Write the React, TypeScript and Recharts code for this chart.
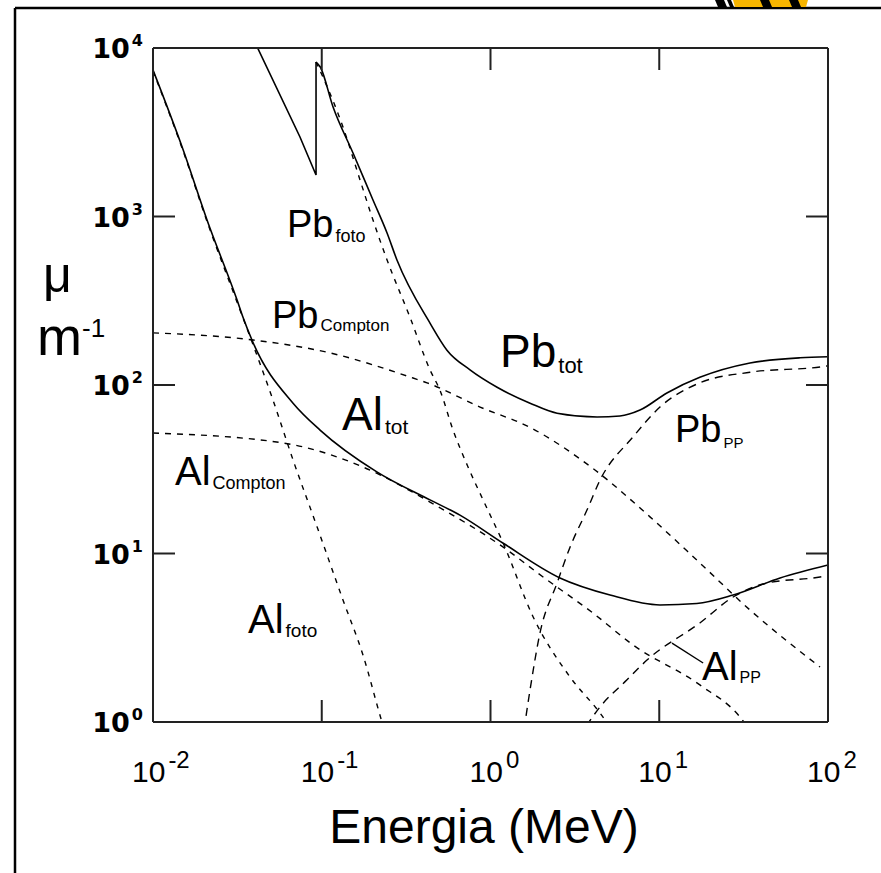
import React from 'react';
import { LineChart, Line, XAxis, YAxis, ReferenceLine } from 'recharts';

// energies in MeV, attenuation coefficients in m^-1
const alTotE = [0.01, 0.0151, 0.0209, 0.0315, 0.0341, 0.0392, 0.0676, 0.0977, 0.212, 0.438, 0.659, 1.19, 2.58, 5.11, 10.1, 16.7, 27.4, 52, 100];
const alTotMu = [7400, 2480, 953, 319, 253, 178, 78, 54, 30.5, 20.8, 16.9, 11.5, 7.16, 5.67, 4.95, 5.05, 5.67, 7.16, 8.55];

const alFotoE = [0.01, 0.0151, 0.0209, 0.0315, 0.0392, 0.0514, 0.0676, 0.0938, 0.1336, 0.1755, 0.2275, 0.235];
const alFotoMu = [7300, 2440, 935, 310, 173, 81.5, 35.9, 14.4, 5.3, 2.5, 1.0, 0.9];

const alComptonE = [0.01, 0.0589, 0.1755, 0.438, 1.19, 2.05, 4.05, 6.98, 17.4, 30.1, 33];
const alComptonMu = [51.9, 45.3, 32.6, 20.2, 10.9, 7.25, 4.43, 2.87, 1.66, 1.07, 0.95];

const alPpE = [3.7, 4.46, 6.44, 8.46, 17.4, 27.4, 43.5, 89.7, 100];
const alPpMu = [0.95, 1.23, 1.78, 2.33, 3.87, 5.52, 6.68, 7.25, 7.4];

// Pb total, below the K edge (ending with the jump at the edge)
const pbTotLowE = [0.03, 0.0743, 0.0925, 0.0925];
const pbTotLowMu = [20000, 2965, 1763, 8260];
// Pb total, above the K edge
const pbTotHighE = [0.0925, 0.098, 0.1167, 0.1532, 0.2012, 0.2438, 0.279, 0.438, 0.552, 0.756, 1.094, 1.715, 2.48, 4.28, 5.85, 7.69, 11.1, 17.4, 34.5, 68.3, 100];
const pbTotHighMu = [8260, 7710, 4465, 2381, 1253, 798, 552, 233, 161, 123, 97, 78, 68, 64.6, 65.5, 71, 89.7, 111, 135, 145, 147];

const pbFotoE = [0.0925, 0.1016, 0.1336, 0.1686, 0.2012, 0.2438, 0.333, 0.438, 0.502, 0.6, 0.736, 0.904, 1.19, 1.79, 2.96, 4.46, 5.25];
const pbFotoMu = [8260, 6730, 3397, 1648, 953, 552, 253, 123, 93, 54, 32.6, 20.8, 11.5, 4.2, 1.85, 1.13, 0.9];

const pbComptonE = [0.01, 0.0392, 0.112, 0.3475, 0.421, 0.867, 1.715, 4.16, 8.81, 17.4, 34.5, 89.7];
const pbComptonMu = [204, 185, 155, 110, 103, 74, 56, 31.3, 16.5, 8.79, 4.62, 2.12];

const pbPpE = [1.58, 1.715, 1.965, 2.48, 2.96, 3.73, 4.46, 6.98, 10.1, 17.4, 34.5, 89.7, 100];
const pbPpMu = [0.9, 1.55, 3.38, 6.68, 10.9, 18.1, 27.3, 49.1, 74, 103, 119, 128, 130];

const xTicks = [0.01, 0.1, 1, 10, 100];
const yTicks = [1, 10, 100, 1000, 10000];

const toPoints = (e: number[], mu: number[]) => e.map((v, i) => ({ e: v, mu: mu[i] }));

const SANS = '"Liberation Sans", Arial, sans-serif';
const FRAME = '#222';

const LeftTick = (props: any) => {
  const { x, y, payload } = props;
  const exp = Math.round(Math.log10(payload.value));
  return (
    <text x={x} y={y + 10} textAnchor="end" fontFamily="DejaVu Sans" fontWeight="bold" fontSize={27} fill="#000">
      10<tspan dx={2} dy={-12} fontSize={16}>{exp}</tspan>
    </text>
  );
};

const BottomTick = (props: any) => {
  const { x, y, payload } = props;
  const exp = Math.round(Math.log10(payload.value));
  return (
    <text x={x - 21} y={y} textAnchor="start" fontFamily={SANS} fontSize={30} fill="#000">
      10<tspan dx={3} dy={-14} fontSize={24}>{exp}</tspan>
    </text>
  );
};

const NoTick = () => <g />;

// curve name with a subscript
const CurveLabel = ({ x, y, main, sub, size, subSize, subDx = 2, subDy = 5 }: any) => (
  <text x={x} y={y} fontFamily={SANS} fontSize={size} fill="#000">
    {main}
    <tspan dx={subDx} dy={subDy} fontSize={subSize}>{sub}</tspan>
  </text>
);

const App: React.FC = () => {
  const solid = { stroke: '#000', strokeWidth: 1.6, dot: false, activeDot: false, isAnimationActive: false } as const;
  const dashed = { stroke: '#000', strokeWidth: 1.4, dot: false, activeDot: false, isAnimationActive: false } as const;
  return (
    <div style={{ position: 'absolute', left: 0, top: 0, width: 881, height: 873, background: '#fff' }}>
      <LineChart width={881} height={873} margin={{ top: 47, right: 52, bottom: 91, left: 93 }}>
        <XAxis
          dataKey="e"
          type="number"
          scale="log"
          domain={[0.01, 100]}
          ticks={xTicks}
          allowDataOverflow
          height={60}
          stroke={FRAME}
          strokeWidth={2}
          tickSize={-22}
          tickMargin={82}
          tick={<BottomTick />}
        />
        <XAxis
          xAxisId="top"
          orientation="top"
          dataKey="e"
          type="number"
          scale="log"
          domain={[0.01, 100]}
          ticks={xTicks}
          allowDataOverflow
          height={1}
          stroke={FRAME}
          strokeWidth={2}
          tickSize={-22}
          tick={<NoTick />}
        />
        <YAxis
          type="number"
          scale="log"
          domain={[1, 10000]}
          ticks={yTicks}
          allowDataOverflow
          width={60}
          stroke={FRAME}
          strokeWidth={2}
          tickSize={-22}
          tickMargin={32}
          tick={<LeftTick />}
        />
        <YAxis
          yAxisId="right"
          orientation="right"
          type="number"
          scale="log"
          domain={[1, 10000]}
          ticks={yTicks}
          allowDataOverflow
          width={1}
          stroke={FRAME}
          strokeWidth={2}
          tickSize={-22}
          tick={<NoTick />}
        />

        <Line data={toPoints(alTotE, alTotMu)} dataKey="mu" type="monotone" {...solid} />
        <Line data={toPoints(pbTotLowE, pbTotLowMu)} dataKey="mu" type="linear" {...solid} />
        <Line data={toPoints(pbTotHighE, pbTotHighMu)} dataKey="mu" type="monotone" {...solid} />
        <Line data={toPoints(alFotoE, alFotoMu)} dataKey="mu" type="monotone" strokeDasharray="5 6" {...dashed} />
        <Line data={toPoints(pbFotoE, pbFotoMu)} dataKey="mu" type="monotone" strokeDasharray="5 6" {...dashed} />
        <Line data={toPoints(alComptonE, alComptonMu)} dataKey="mu" type="monotone" strokeDasharray="6 6" {...dashed} />
        <Line data={toPoints(pbComptonE, pbComptonMu)} dataKey="mu" type="monotone" strokeDasharray="6 6" {...dashed} />
        <Line data={toPoints(alPpE, alPpMu)} dataKey="mu" type="monotone" strokeDasharray="8 6" {...dashed} />
        <Line data={toPoints(pbPpE, pbPpMu)} dataKey="mu" type="monotone" strokeDasharray="8 6" {...dashed} />

        {/* leader line for the Al_PP label */}
        <ReferenceLine segment={[{ x: 11.9, y: 2.94 }, { x: 18.2, y: 2.24 }]} stroke="#000" strokeWidth={1.4} />
      </LineChart>

      <svg width={881} height={873} style={{ position: 'absolute', left: 0, top: 0, pointerEvents: 'none' }}>
        {/* page frame */}
        <line x1={15} y1={8} x2={881} y2={8} stroke="#000" strokeWidth={2.5} />
        <line x1={15} y1={8} x2={15} y2={873} stroke="#000" strokeWidth={2.5} />
        {/* corner emblem */}
        <g>
          <polygon points="733,0 808,0 806,7 735,7" fill="#f7b500" />
          <polygon points="715,0 724,0 727,7 718,7" fill="#000" />
          <polygon points="727,0 731,0 734,7 730,7" fill="#000" />
          <polygon points="760,0 769,0 772,7 763,7" fill="#000" />
          <polygon points="789,0 798,0 801,7 792,7" fill="#000" />
        </g>

        <text x={43} y={292} fontFamily={SANS} fontSize={50} fill="#000">μ</text>
        <text x={37} y={355} fontFamily={SANS} fontSize={54} fill="#000">
          m<tspan dy={-18} fontSize={26}>-1</tspan>
        </text>
        <text x={484} y={843} textAnchor="middle" fontFamily={SANS} fontSize={48} fill="#000">Energia (MeV)</text>

        <CurveLabel x={287} y={237} main="Pb" sub="foto" size={38} subSize={18} subDy={5} />
        <CurveLabel x={272} y={328} main="Pb" sub="Compton" size={38} subSize={17} subDy={3} />
        <CurveLabel x={500} y={367} main="Pb" sub="tot" size={46} subSize={22} subDy={6} />
        <CurveLabel x={342} y={430} main="Al" sub="tot" size={46} subSize={21} subDy={4} />
        <CurveLabel x={175} y={485} main="Al" sub="Compton" size={40} subSize={18} subDy={4} />
        <CurveLabel x={248} y={633} main="Al" sub="foto" size={40} subSize={19} subDy={4} />
        <CurveLabel x={675} y={442} main="Pb" sub="PP" size={38} subSize={15} subDy={6} />
        <CurveLabel x={702} y={680} main="Al" sub="PP" size={40} subSize={16} subDy={3} />
      </svg>
    </div>
  );
};

export default App;
